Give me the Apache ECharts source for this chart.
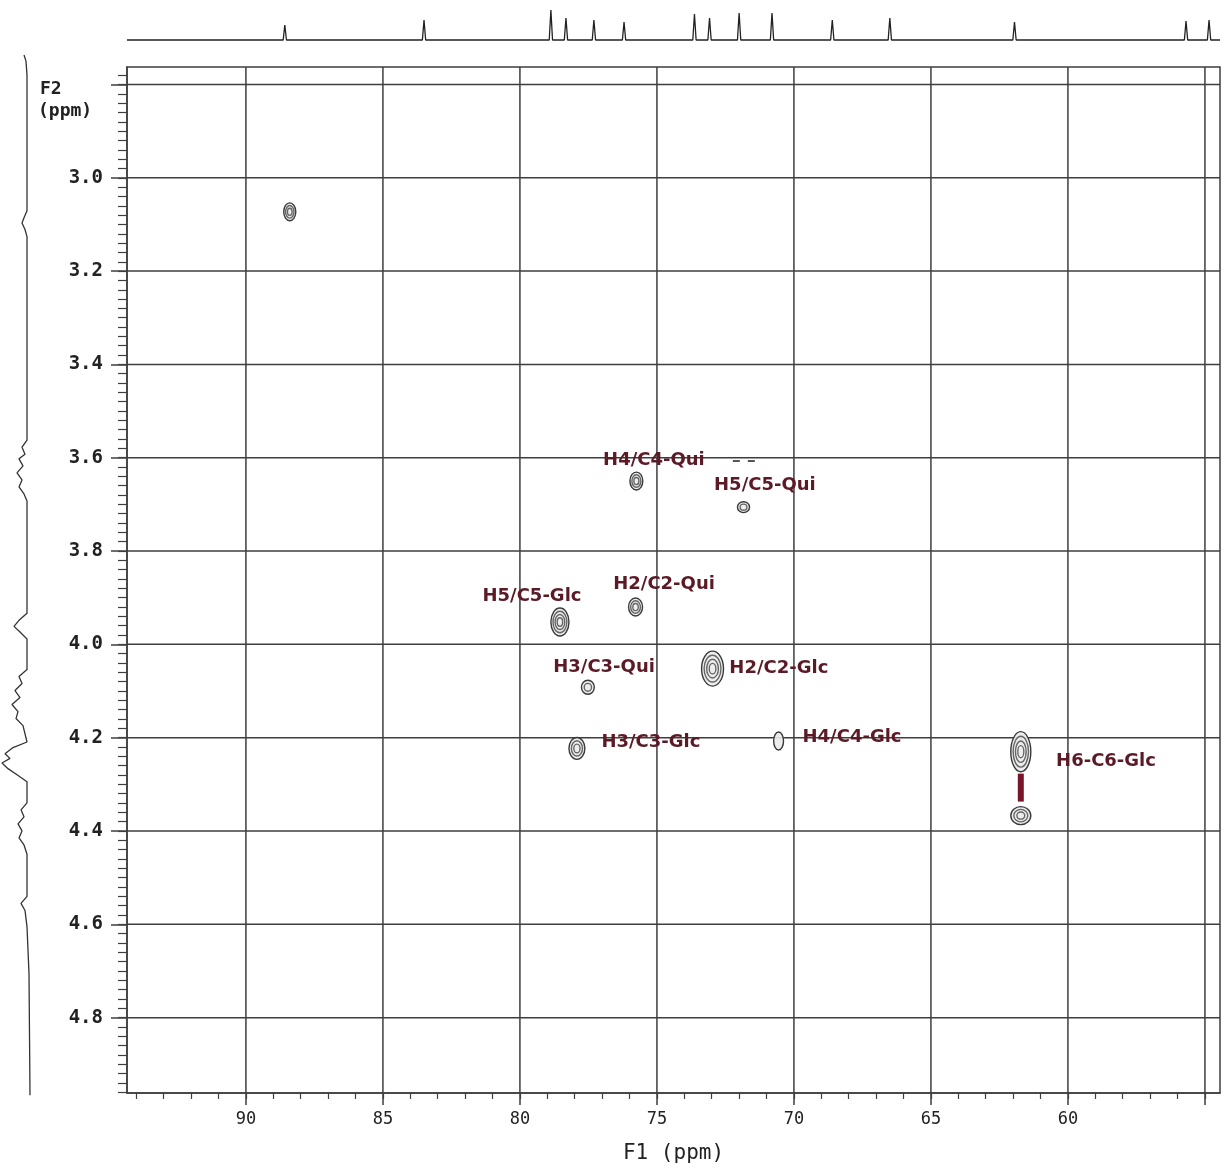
<!DOCTYPE html>
<html>
<head>
<meta charset="utf-8">
<script src="https://cdn.jsdelivr.net/npm/echarts@6/dist/echarts.min.js"></script>
<style>html,body{margin:0;padding:0;background:#fff}#c{width:1224px;height:1169px}</style>
</head>
<body>
<div id="c"></div>
<script>
// ---- axis ranges (ppm) ----
const f1Min = 54.45, f1Max = 94.34;      // 13C (F1) axis
const f2Min = 2.7626, f2Max = 4.9615;    // 1H (F2) axis
const f1Major = [55, 60, 65, 70, 75, 80, 85, 90];
const f1Labels = [60, 65, 70, 75, 80, 85, 90];
const f2Major = [2.8, 3.0, 3.2, 3.4, 3.6, 3.8, 4.0, 4.2, 4.4, 4.6, 4.8];
const f2Labels = [3.0, 3.2, 3.4, 3.6, 3.8, 4.0, 4.2, 4.4, 4.6, 4.8];

// ---- HSQC cross peaks ----
const peakC     = [88.40, 75.75, 71.84, 75.78, 78.54, 77.52, 72.97, 77.92, 70.56, 61.72, 61.72];
const peakH     = [3.073, 3.650, 3.706, 3.920, 3.952, 4.092, 4.052, 4.223, 4.207, 4.230, 4.367];
const peakWC    = [0.44, 0.47, 0.44, 0.51, 0.66, 0.47, 0.80, 0.58, 0.36, 0.73, 0.73];
const peakWH    = [0.0385, 0.0385, 0.0235, 0.0385, 0.060, 0.030, 0.075, 0.047, 0.0385, 0.086, 0.0385];
const peakRings = [3, 3, 2, 3, 4, 2, 4, 3, 1, 4, 3];

// ---- assignment labels ----
const labelText = ['H4/C4-Qui', 'H5/C5-Qui', 'H2/C2-Qui', 'H5/C5-Glc', 'H3/C3-Qui', 'H2/C2-Glc', 'H3/C3-Glc', 'H4/C4-Glc', 'H6-C6-Glc'];
const labelC    = [75.11, 71.06, 74.74, 79.56, 76.93, 70.55, 75.22, 67.88, 58.61];
const labelH    = [3.605, 3.659, 3.871, 3.898, 4.050, 4.052, 4.211, 4.200, 4.251];

// H6 connector bar and dashed mark
const h6BarC = [61.72, 61.72];
const h6BarH = [4.277, 4.337];
const dashC = [72.23, 71.42];
const dashH = [3.607, 3.607];

// ---- 1D 13C spectrum (top projection) ----
const topPeakPpm    = [88.58, 83.5, 78.87, 78.32, 77.3, 76.2, 73.63, 73.08, 72.0, 70.8, 68.6, 66.5, 61.95, 55.69, 54.85];
const topPeakHeight = [15, 20, 30, 22, 20, 18, 26, 22, 27, 27, 20, 22, 18, 19, 20];

// ---- 1D 1H spectrum (left projection) ----
const leftPpm = [2.737, 2.75, 2.78, 3.07, 3.085, 3.096, 3.11, 3.125, 3.56, 3.575, 3.59, 3.60, 3.615, 3.63, 3.645, 3.66, 3.675, 3.69,
  3.93, 3.945, 3.958, 3.97, 3.985, 4.05, 4.065, 4.08, 4.095, 4.11, 4.125, 4.14, 4.155, 4.17,
  4.205, 4.217, 4.23, 4.24, 4.25, 4.262, 4.275, 4.29, 4.335, 4.35, 4.365, 4.38, 4.395, 4.41, 4.425, 4.445,
  4.535, 4.55, 4.565, 4.60, 4.70, 4.96];
const leftInt = [3, 1, 0, 0, 3, 5, 2, 0, 0, 5, 2, 8, 4, 10, 5, 8, 3, 0,
  0, 8, 13, 7, 0, 0, 8, 5, 12, 7, 15, 9, 11, 4,
  0, 14, 22, 17, 25, 19, 10, 0, 0, 6, 3, 9, 5, 8, 3, 0,
  0, 6, 2, 0, -2, -3];

// ---- build derived data ----
const f1Minor = []; for (let v = 55; v <= 94; v++) f1Minor.push(v);
const f2Minor = []; for (let i = 139; i <= 248; i++) f2Minor.push(+(i / 50).toFixed(2));

const topTrace = [[f1Max, 0]];
topPeakPpm.forEach((p, i) => { topTrace.push([p + 0.06, 0], [p, topPeakHeight[i]], [p - 0.06, 0]); });
topTrace.push([f1Min, 0]);
const leftTrace = leftPpm.map((p, i) => [leftInt[i], p]);

const peakData = peakC.map((c, i) => [c, peakH[i], peakWC[i], peakWH[i], peakRings[i]]);
const labelData = labelC.map((c, i) => ({ value: [c, labelH[i]], name: labelText[i] }));

const monoFont = '"DejaVu Sans Mono", "Liberation Mono", monospace';
const gridCol = '#3e3e3e';

const chart = echarts.init(document.getElementById('c'), null, { renderer: 'canvas' });
chart.setOption({
  backgroundColor: '#ffffff',
  animation: false,
  grid: [
    { left: 127, right: 4, top: 67, bottom: 73, show: true, borderColor: gridCol, borderWidth: 1.5, backgroundColor: 'transparent' },
    { left: 127, right: 4, top: 8, height: 36 },
    { left: 0, width: 32, top: 55, bottom: 73 }
  ],
  xAxis: [
    { gridIndex: 0, type: 'value', min: f1Min, max: f1Max, inverse: true, position: 'bottom',
      axisLine: { show: true, onZero: false, lineStyle: { color: gridCol, width: 1.5 } },
      axisTick: { show: true, customValues: f1Major, length: 12, lineStyle: { color: gridCol, width: 1.5 } },
      axisLabel: { show: true, customValues: f1Labels, margin: 18, fontFamily: monoFont, fontSize: 17, color: '#222' },
      splitLine: { show: false },
      name: 'F1 (ppm)', nameLocation: 'middle', nameGap: 50,
      nameTextStyle: { fontFamily: monoFont, fontSize: 21, color: '#222' } },
    { gridIndex: 0, type: 'value', min: f1Min, max: f1Max, inverse: true, position: 'bottom',
      axisLine: { show: false, onZero: false },
      axisTick: { show: true, customValues: f1Minor, length: 6, lineStyle: { color: gridCol, width: 1.2 } },
      axisLabel: { show: false }, splitLine: { show: false } },
    { gridIndex: 1, type: 'value', min: f1Min, max: f1Max, inverse: true, show: false },
    { gridIndex: 2, type: 'value', min: -5, max: 27, inverse: true, show: false }
  ],
  yAxis: [
    { gridIndex: 0, type: 'value', min: f2Min, max: f2Max, inverse: true, position: 'left',
      axisLine: { show: true, onZero: false, lineStyle: { color: gridCol, width: 1.5 } },
      axisTick: { show: true, customValues: f2Major, length: 16, lineStyle: { color: gridCol, width: 1.5 } },
      axisLabel: { show: true, customValues: f2Labels, margin: 24, fontFamily: monoFont, fontWeight: 'bold', fontSize: 19, color: '#222',
        formatter: v => v.toFixed(1) },
      splitLine: { show: false } },
    { gridIndex: 0, type: 'value', min: f2Min, max: f2Max, inverse: true, position: 'left',
      axisLine: { show: false, onZero: false },
      axisTick: { show: true, customValues: f2Minor, length: 9, lineStyle: { color: gridCol, width: 1.2 } },
      axisLabel: { show: false }, splitLine: { show: false } },
    { gridIndex: 1, type: 'value', min: -4, max: 32, show: false },
    { gridIndex: 2, type: 'value', min: 2.737, max: f2Max, inverse: true, show: false }
  ],
  graphic: [
    { type: 'text', left: 40, top: 80, style: { text: 'F2', font: 'bold 18px ' + monoFont, fill: '#222' } },
    { type: 'text', left: 38, top: 102, style: { text: '(ppm)', font: 'bold 18px ' + monoFont, fill: '#222' } }
  ],
  series: [
    { // vertical grid lines
      type: 'custom', xAxisIndex: 0, yAxisIndex: 0, silent: true, z: 1,
      data: f1Major.map(v => [v, f2Min]),
      renderItem: (params, api) => {
        const cs = params.coordSys;
        const x = api.coord([api.value(0), api.value(1)])[0];
        return { type: 'line', shape: { x1: x, y1: cs.y, x2: x, y2: cs.y + cs.height }, style: { stroke: gridCol, lineWidth: 1.5 } };
      }
    },
    { // horizontal grid lines
      type: 'custom', xAxisIndex: 0, yAxisIndex: 0, silent: true, z: 1,
      data: f2Major.map(v => [f1Min, v]),
      renderItem: (params, api) => {
        const cs = params.coordSys;
        const y = api.coord([api.value(0), api.value(1)])[1];
        return { type: 'line', shape: { x1: cs.x, y1: y, x2: cs.x + cs.width, y2: y }, style: { stroke: gridCol, lineWidth: 1.5 } };
      }
    },
    { // cross peaks as contour rings
      type: 'custom', xAxisIndex: 0, yAxisIndex: 0, silent: true, z: 3,
      data: peakData,
      encode: { x: 0, y: 1 },
      renderItem: (params, api) => {
        const c = api.coord([api.value(0), api.value(1)]);
        const s = api.size([api.value(2), api.value(3)], [api.value(0), api.value(1)]);
        const rings = api.value(4);
        const rx = Math.abs(s[0]) / 2, ry = Math.abs(s[1]) / 2;
        const children = [];
        for (let k = 0; k < rings; k++) {
          const f = 1 - k / (rings + 0.3);
          children.push({ type: 'ellipse', shape: { cx: c[0], cy: c[1], rx: rx * f, ry: ry * f },
            style: { fill: k === 0 ? 'rgba(235,235,235,0.9)' : 'none', stroke: k === 0 ? '#3a3a3a' : '#666', lineWidth: 1.4 } });
        }
        return { type: 'group', children };
      }
    },
    { // H6 connector bar
      type: 'line', xAxisIndex: 0, yAxisIndex: 0, silent: true, z: 3, symbol: 'none',
      data: h6BarC.map((c, i) => [c, h6BarH[i]]),
      lineStyle: { color: '#7a1428', width: 6 }
    },
    { // small dashed mark
      type: 'line', xAxisIndex: 0, yAxisIndex: 0, silent: true, z: 3, symbol: 'none',
      data: dashC.map((c, i) => [c, dashH[i]]),
      lineStyle: { color: '#555', width: 2, type: [7, 8] }
    },
    { // labels
      type: 'custom', xAxisIndex: 0, yAxisIndex: 0, silent: true, z: 4,
      data: labelData,
      encode: { x: 0, y: 1 },
      renderItem: (params, api) => {
        const c = api.coord([api.value(0), api.value(1)]);
        return { type: 'text', x: c[0], y: c[1],
          style: { text: labelText[params.dataIndex], textAlign: 'center', textVerticalAlign: 'middle',
            font: 'bold 18px "DejaVu Sans", "Liberation Sans", sans-serif', fill: '#5b1a26' } };
      }
    },
    { // top 1D 13C trace
      type: 'line', xAxisIndex: 2, yAxisIndex: 2, silent: true, symbol: 'none',
      data: topTrace, lineStyle: { color: '#222', width: 1.3 }
    },
    { // left 1D 1H trace
      type: 'line', xAxisIndex: 3, yAxisIndex: 3, silent: true, symbol: 'none',
      data: leftTrace, lineStyle: { color: '#333', width: 1.3 }
    }
  ]
});
</script>
</body>
</html>
